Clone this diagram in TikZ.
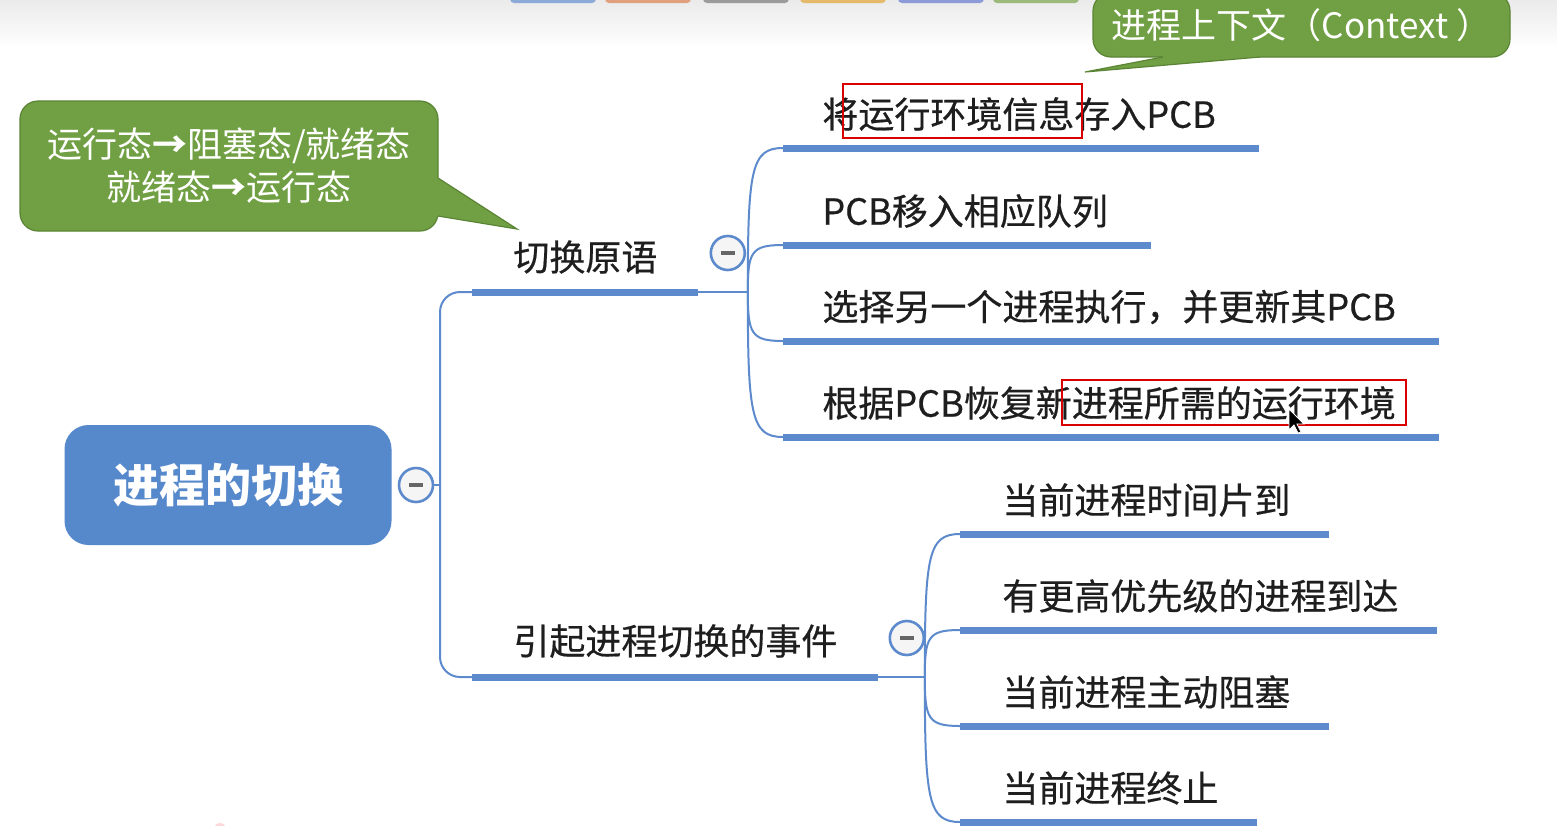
\documentclass[tikz,border=0pt]{standalone}
\usepackage{fontspec}
\setmainfont{Noto Sans CJK SC}
\newfontfamily\heavyfont[FakeBold=0.5]{Noto Sans CJK SC}
\usetikzlibrary{calc,positioning}
\definecolor{mapblue}{RGB}{86,136,204}
\definecolor{linkblue}{RGB}{92,138,204}
\definecolor{callgreen}{RGB}{113,160,68}
\definecolor{callrim}{RGB}{90,132,52}
\definecolor{inktext}{RGB}{30,30,30}
\definecolor{tabblue}{RGB}{140,170,215}
\definecolor{taborange}{RGB}{225,160,125}
\definecolor{tabgray}{RGB}{155,155,155}
\definecolor{tabyellow}{RGB}{228,185,105}
\definecolor{tabviolet}{RGB}{140,155,215}
\definecolor{tabgreen}{RGB}{155,185,120}
\tikzset{
  root/.style={rectangle, rounded corners=12pt, fill=mapblue, text=white,
    minimum width=163.5pt, minimum height=60pt, font=\fontsize{23}{28}\selectfont\bfseries},
  topic/.style={anchor=west, inner sep=0pt, text=inktext, font=\fontsize{18}{22}\selectfont\heavyfont},
  leaf/.style={topic},
  fold/.style={circle, draw=linkblue, line width=1.3pt, fill=gray!8, minimum size=17pt, inner sep=0pt,
    path picture={\draw[gray!80!black, line width=1.6pt] ([xshift=-3.5pt]path picture bounding box.center)
      -- ([xshift=3.5pt]path picture bounding box.center);}},
  link/.style={draw=linkblue, line width=1pt},
  bar/.style={draw=linkblue, line width=3.5pt},
  callout/.style={rectangle, rounded corners=9pt, fill=callgreen, draw=callrim, line width=0.6pt,
    text=white, align=center, font=\fontsize{17.5}{21.5}\selectfont},
  redbox/.style={draw=red!85!black, line width=0.7pt}
}
\begin{document}
\begin{tikzpicture}[x=0.5pt, y=-0.5pt]
    % --- Canvas ---
    \clip (0,0) rectangle (1557,825);
    \fill[white] (0,0) rectangle (1557,825);
    \shade[top color=gray!16, bottom color=white] (0,0) rectangle (1557,48);
    \foreach \tx/\tc in {510/tabblue, 605/taborange, 703/tabgray, 800/tabyellow, 898/tabviolet, 993/tabgreen}
        \fill[\tc, rounded corners=2pt] (\tx,-6) rectangle ++(86,9);
    \fill[pink!60] (220,829) circle (6);

    % --- Root ---
    \node[root] (proc) at (228,485) {进程的切换};
    \node[fold] (f0) at (416,485) {};
    \coordinate (t0) at (440,485);
    \draw[link] (f0) -- (t0);

    % --- Branch: switching primitive ---
    \node[topic] (prim) at (513,257) {切换原语};
    \coordinate (p1s) at (472,292);
    \coordinate (p1e) at ($(prim.east |- p1s)+(40,0)$);
    \coordinate (j1) at ($(p1e)+(50,0)$);
    \draw[link, rounded corners=10pt] (t0) |- (p1s);
    \draw[bar] (p1s) -- (p1e);
    \draw[link] (p1e) -- (j1);
    \node[fold] (f1) at ($(p1e)+(30,-39)$) {};

    \foreach \i/\ty/\txt in {1/114/将运行环境信息存入PCB, 2/211/PCB移入相应队列,
        3/307/选择另一个进程执行，并更新其PCB, 4/403/根据PCB恢复新进程所需的运行环境}{
        \node[leaf] (a\i) at (822,\ty) {\txt};
        \coordinate (u\i) at (783,\ty+34);
        \draw[link] (j1) .. controls +(0,{(\ty+34-292)*0.85}) and +(-32,0) .. (u\i);
        \draw[bar] (u\i) -- ($(a\i.east |- u\i)+(43,0)$);
    }

    % --- Branch: triggering events ---
    \node[topic] (evt) at (513,641) {引起进程切换的事件};
    \coordinate (p2s) at (472,677);
    \coordinate (p2e) at ($(evt.east |- p2s)+(40,0)$);
    \coordinate (j2) at ($(p2e)+(47,0)$);
    \draw[link, rounded corners=10pt] (t0) |- (p2s);
    \draw[bar] (p2s) -- (p2e);
    \draw[link] (p2e) -- (j2);
    \node[fold] (f2) at ($(p2e)+(29,-39)$) {};

    \foreach \i/\ty/\txt in {5/500/当前进程时间片到, 6/596/有更高优先级的进程到达,
        7/692/当前进程主动阻塞, 8/788/当前进程终止}{
        \node[leaf] (a\i) at (1002,\ty) {\txt};
        \coordinate (u\i) at (960,\ty+34);
        \draw[link] (j2) .. controls +(0,{(\ty+34-677)*0.85}) and +(-32,0) .. (u\i);
        \draw[bar] (u\i) -- ($(a\i.east |- u\i)+(38,0)$);
    }

    % --- Callout: state changes ---
    \node[callout, minimum width=209pt, minimum height=65pt] (note1) at (229,166)
        {运行态{\bfseries →}阻塞态/就绪态\\就绪态{\bfseries →}运行态};
    \coordinate (n1a) at (438,178);
    \coordinate (n1tip) at (517,229);
    \coordinate (n1b) at (438,216);
    \fill[callgreen] (n1a) -- (n1tip) -- (n1b) -- ($(n1b)+(-5,0)$) -- ($(n1a)+(-5,0)$) -- cycle;
    \draw[callrim, line width=0.6pt] (n1a) -- (n1tip) -- (n1b);

    % --- Callout: context ---
    \node[callout, minimum width=208.5pt, minimum height=32pt] (note2) at (1301.5,25)
        {进程上下文（Context ）};
    \coordinate (n2a) at (1163,57);
    \coordinate (n2tip) at (1085,72);
    \coordinate (n2b) at (1260,57);
    \fill[callgreen] (n2a) -- (n2tip) -- (n2b) -- ($(n2b)+(0,-5)$) -- ($(n2a)+(0,-5)$) -- cycle;
    \draw[callrim, line width=0.6pt] (n2a) -- (n2tip) -- (n2b);

    % --- Highlights and pointer ---
    \draw[redbox] (843,84) rectangle (1082,138);
    \draw[redbox] (1062,380) rectangle (1406,425);
    \fill[black, draw=white, line width=0.4pt] (1289,409) -- (1289,430) -- (1294,425) -- (1298,433)
        -- (1301,432) -- (1297,424) -- (1304,424) -- cycle;
\end{tikzpicture}
\end{document}
